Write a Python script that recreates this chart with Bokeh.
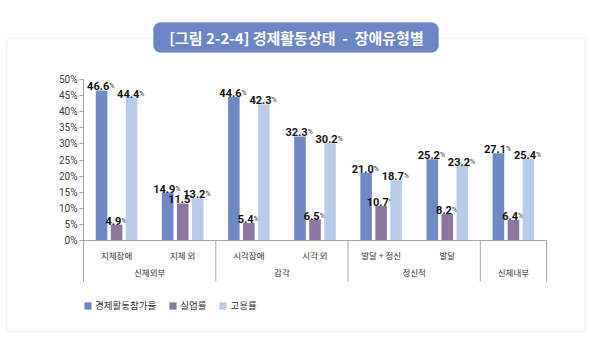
from bokeh.plotting import figure
from bokeh.models import (Range1d, FixedTicker, PrintfTickFormatter, LinearAxis,
                          ColumnDataSource, BoxAnnotation, Label, Legend, LegendItem)
from bokeh.core.properties import value
from bokeh.embed import file_html
from bokeh.resources import INLINE

# ---- data ----
groups = ["신체외부", "감각", "정신적", "신체내부"]
group_sizes = [2, 2, 2, 1]
categories = ["지체장애", "지체 외", "시각장애", "시각 외", "발달 + 정신", "발달", ""]
participation = [46.6, 14.9, 44.6, 32.3, 21.0, 25.2, 27.1]   # 경제활동참가율
unemployment = [4.9, 11.5, 5.4, 6.5, 10.7, 8.2, 6.4]         # 실업률
employment = [44.4, 13.2, 42.3, 30.2, 18.7, 23.2, 25.4]      # 고용률
series_names = ["경제활동참가율", "실업률", "고용률"]
y_ticks = [0, 5, 10, 15, 20, 25, 30, 35, 40, 45, 50]
title_text = "[그림 2-2-4] 경제활동상태\u00a0\u00a0-\u00a0\u00a0장애유형별"

colors = ["#6f89c6", "#8d77a1", "#b8cbe9"]
KR = "Noto Sans CJK KR"
NUM = "Roboto"

W, H = 590, 337
# plot area in canvas pixels
PX_L, PX_R, PX_T, PX_B = 83, 546, 79, 240
n = len(categories)
xpx = (PX_R - PX_L) / n
ypx = (PX_B - PX_T) / 50.0
x_range = Range1d(-PX_L / xpx, n + (W - PX_R) / xpx)
y_range = Range1d(-(H - PX_B) / ypx, 50 + PX_T / ypx)
div_bottom = -41 / ypx

p = figure(width=W, height=H, x_range=x_range, y_range=y_range,
           output_backend="svg", toolbar_location=None,
           x_axis_location=None, y_axis_location=None, min_border=0)
p.outline_line_color = None
p.xgrid.grid_line_color = None
p.ygrid.grid_line_color = None
p.background_fill_color = "white"
p.border_fill_color = "white"

# outer frame and title box
p.add_layout(BoxAnnotation(left=6, right=585, top=38, bottom=331,
                           left_units="canvas", right_units="canvas",
                           top_units="canvas", bottom_units="canvas",
                           fill_color=None, line_color="#dadada", line_width=1.5,
                           border_radius=3, level="underlay"))
p.add_layout(BoxAnnotation(left=153, right=438, top=22, bottom=52,
                           left_units="canvas", right_units="canvas",
                           top_units="canvas", bottom_units="canvas",
                           fill_color="#6d87c6", fill_alpha=1, line_color="#6d87c6",
                           border_radius=7, level="underlay"))
p.add_layout(Label(x=296, y=37, x_units="canvas", y_units="canvas", text=title_text,
                   text_align="center", text_baseline="middle", text_color="white",
                   text_font=KR, text_font_style="bold", text_font_size="15px"))

xs = [i + 0.5 for i in range(n)]
off = 0.227
w = 0.175


def lab_offset(s):
    wn = sum(2.8 if c == "." else 6.0 for c in s)
    return (wn - 5.5) / 2.0


renderers = []
for i, (vals, col) in enumerate(zip([participation, unemployment, employment], colors)):
    d = (i - 1) * off
    txt = [f"{v:.1f}" for v in vals]
    src = ColumnDataSource(dict(x=[x + d for x in xs], top=vals, t=txt,
                                pc=["%"] * n, xo=[lab_offset(s) for s in txt]))
    r = p.vbar(x="x", top="top", width=w, source=src, fill_color=col, line_color=None)
    renderers.append(r)
    p.text(x="x", y="top", text="t", source=src, x_offset="xo", y_offset=-4,
           text_align="right", text_baseline="alphabetic",
           text_font=value(NUM), text_font_style="bold", text_font_size="11px",
           text_color="#111111")
    p.text(x="x", y="top", text="pc", source=src, x_offset="xo", y_offset=-4,
           text_align="left", text_baseline="alphabetic",
           text_font=value(NUM), text_font_size="7px", text_color="#333333")

# group dividers below axis
bounds = []
acc = 0
for s in group_sizes:
    acc += s
    bounds.append(acc)
p.segment(x0=bounds, x1=bounds, y0=[0] * len(bounds), y1=[div_bottom] * len(bounds),
          line_color="#a6a6a6", line_width=1)

# y axis
yax = LinearAxis(fixed_location=0, bounds=(div_bottom, 50),
                 ticker=FixedTicker(ticks=y_ticks),
                 formatter=PrintfTickFormatter(format="%d%%"))
yax.axis_line_color = "#a6a6a6"
yax.major_tick_line_color = "#a6a6a6"
yax.major_tick_out = 4
yax.major_tick_in = 0
yax.minor_tick_line_color = None
yax.major_label_standoff = 2
yax.major_label_text_font = NUM
yax.major_label_text_font_size = "10px"
yax.major_label_text_color = "#404040"
p.add_layout(yax, "left")

# category axis
xax = LinearAxis(fixed_location=0, bounds=(0, n), ticker=FixedTicker(ticks=xs),
                 major_label_overrides={x: c for x, c in zip(xs, categories)})
xax.axis_line_color = "#a6a6a6"
xax.major_tick_line_color = None
xax.minor_tick_line_color = None
xax.major_tick_out = 0
xax.major_tick_in = 0
xax.major_label_standoff = 8
xax.major_label_text_font = KR
xax.major_label_text_font_size = "8.5px"
xax.major_label_text_color = "#333333"
p.add_layout(xax, "below")

# group axis
gmids = []
acc = 0
for s in group_sizes:
    gmids.append(acc + s / 2.0)
    acc += s
gax = LinearAxis(fixed_location=-25 / ypx, bounds=(0, n), ticker=FixedTicker(ticks=gmids),
                 major_label_overrides={x: g for x, g in zip(gmids, groups)})
gax.axis_line_color = None
gax.major_tick_line_color = None
gax.minor_tick_line_color = None
gax.major_tick_out = 0
gax.major_tick_in = 0
gax.major_label_standoff = 0
gax.major_label_text_font = KR
gax.major_label_text_font_size = "8.5px"
gax.major_label_text_color = "#333333"
p.add_layout(gax, "below")

legend = Legend(items=[LegendItem(label=s, renderers=[r]) for s, r in zip(series_names, renderers)],
                location=(83, 25), orientation="horizontal", padding=0, margin=0,
                spacing=12, label_standoff=3, glyph_width=9, glyph_height=9,
                label_height=10, label_text_font=KR, label_text_font_size="9.5px",
                label_text_color="#333333", border_line_color=None,
                background_fill_alpha=0)
p.add_layout(legend)

open("out.html", "w").write(file_html(p, INLINE))
